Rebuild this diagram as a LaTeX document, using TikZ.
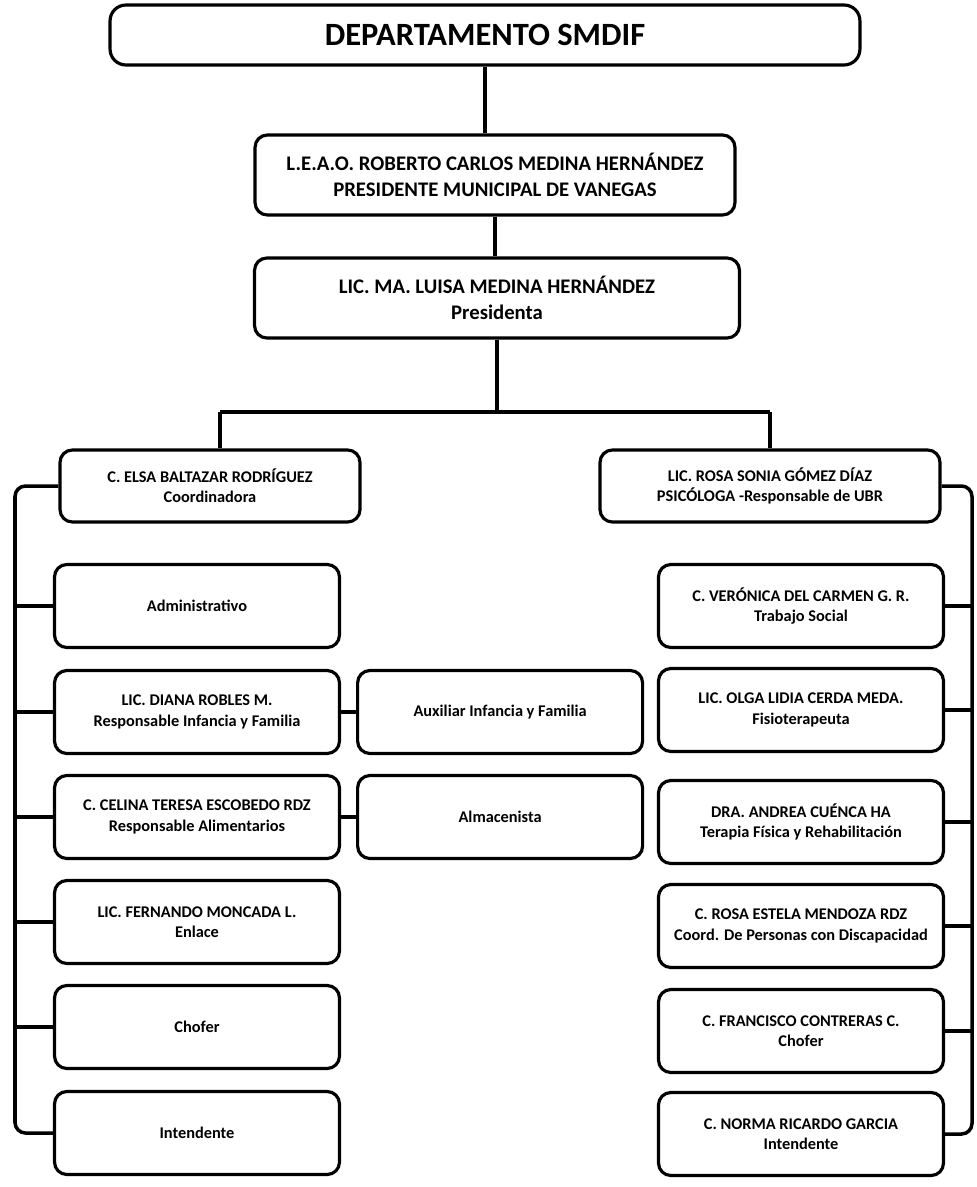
\documentclass[tikz,border=0pt]{standalone}
\usepackage{fontspec}
\setmainfont{Carlito}
\usetikzlibrary{positioning,calc}
\tikzset{
  box/.style={draw,rounded corners=7pt,line width=1.8pt,align=center,inner sep=2pt,
    font=\bfseries\fontsize{9.3}{11.5}\selectfont,minimum width=5.7cm,minimum height=1.66cm},
  topbox/.style={box,font=\bfseries\fontsize{11.8}{14.5}\selectfont,minimum height=1.6cm},
  titlebox/.style={box,font=\bfseries\fontsize{18.5}{22}\selectfont,minimum width=15cm,minimum height=1.2cm,rounded corners=9pt},
  conn/.style={line width=2pt},
}
\begin{document}
\begin{tikzpicture}[x=0.02cm,y=-0.02cm]
  \useasboundingbox (0,0) rectangle (977,1187);

  % head of the chart
  \node[titlebox] (title) at (485,35) {DEPARTAMENTO SMDIF};
  \node[topbox, minimum width=9.6cm] (pres) at (495,175) {L.E.A.O. ROBERTO CARLOS MEDINA HERNÁNDEZ\\PRESIDENTE MUNICIPAL DE VANEGAS};
  \node[topbox, minimum width=9.7cm] (presid) at (497,298) {LIC. MA. LUISA MEDINA HERNÁNDEZ\\Presidenta};
  \node[box, minimum width=6cm, minimum height=1.44cm] (coord) at (210,486) {C. ELSA BALTAZAR RODRÍGUEZ\\Coordinadora};
  \node[box, minimum width=6.8cm, minimum height=1.44cm] (psic) at (770,486) {LIC. ROSA SONIA GÓMEZ DÍAZ\\PSICÓLOGA -Responsable de UBR};

  % left column
  \node[box] (admin) at (197,606) {Administrativo};
  \node[box] (infancia) at (197,712) {LIC. DIANA ROBLES M.\\Responsable Infancia y Familia};
  \node[box, right=0.3cm of infancia] (auxinf) {Auxiliar Infancia y Familia};
  \node[box] (alim) at (197,817) {C. CELINA TERESA ESCOBEDO RDZ\\Responsable Alimentarios};
  \node[box, right=0.3cm of alim] (almac) {Almacenista};
  \node[box] (enlace) at (197,922) {LIC. FERNANDO MONCADA L.\\Enlace};
  \node[box] (chofer) at (197,1027) {Chofer};
  \node[box] (intend) at (197,1133) {Intendente};

  % right column
  \node[box] (tsocial) at (801,606) {C. VERÓNICA DEL CARMEN G. R.\\Trabajo Social};
  \node[box] (fisio) at (801,710) {LIC. OLGA LIDIA CERDA MEDA.\\Fisioterapeuta};
  \node[box] (terapia) at (801,822) {DRA. ANDREA CUÉNCA HA\\Terapia Física y Rehabilitación};
  \node[box] (discap) at (801,926) {C. ROSA ESTELA MENDOZA RDZ\\Coord. De Personas con Discapacidad};
  \node[box] (choferb) at (801,1031) {C. FRANCISCO CONTRERAS C.\\Chofer};
  \node[box] (intendb) at (801,1134) {C. NORMA RICARDO GARCIA\\Intendente};

  \coordinate (busl) at (220,412);
  \coordinate (busr) at (770,412);
  \coordinate (lspine) at (15,0);
  \coordinate (rspine) at (972,0);

  \draw[conn] (title.south) -- (title.south |- pres.north);
  \draw[conn] (pres.south) -- (pres.south |- presid.north);
  \draw[conn] (presid.south) -- (presid.south |- busl);
  \draw[conn] (busl) -- (busr);
  \draw[conn] (busl) -- (busl |- coord.north);
  \draw[conn] (busr) -- (busr |- psic.north);

  \draw[conn, rounded corners=6pt] (coord.west) -| (lspine |- intend.west) -- (intend.west);
  \foreach \n in {admin,infancia,alim,enlace,chofer}
    \draw[conn] (lspine |- \n.west) -- (\n.west);
  \draw[conn] (infancia.east) -- (auxinf.west);
  \draw[conn] (alim.east) -- (almac.west);

  \draw[conn, rounded corners=6pt] (psic.east) -| (rspine |- intendb.east) -- (intendb.east);
  \foreach \n in {tsocial,fisio,terapia,discap,choferb}
    \draw[conn] (rspine |- \n.east) -- (\n.east);
\end{tikzpicture}
\end{document}
